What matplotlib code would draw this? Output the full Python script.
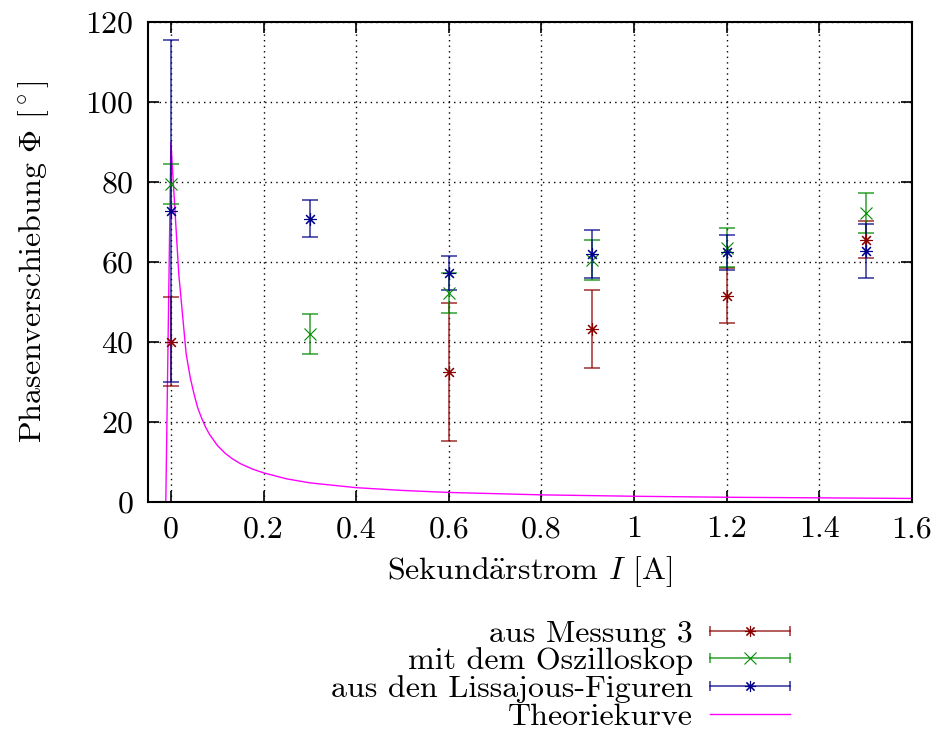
import matplotlib
matplotlib.use('Agg')
import matplotlib.pyplot as plt
from matplotlib.lines import Line2D
from matplotlib.legend_handler import HandlerBase

plt.rcParams['font.family'] = ['cmr10', 'DejaVu Serif']
plt.rcParams['mathtext.fontset'] = 'cm'
plt.rcParams['axes.formatter.use_mathtext'] = True
plt.rcParams['font.size'] = 23

# data
I_meas = [0.0, 0.6, 0.91, 1.2, 1.5]
phi_meas = [40.1, 32.5, 43.3, 51.6, 65.6]
err_meas = [11.2, 17.2, 9.8, 6.8, 4.7]

I_osz = [0.0, 0.3, 0.6, 0.91, 1.2, 1.5]
phi_osz = [79.6, 42.0, 52.3, 60.6, 63.6, 72.2]
err_osz = [5.0, 5.0, 5.0, 5.0, 4.9, 5.0]

I_lis = [0.0, 0.3, 0.6, 0.91, 1.2, 1.5]
phi_lis = [72.8, 70.8, 57.2, 62.0, 62.4, 62.8]
err_lis = [42.7, 4.6, 4.2, 6.0, 4.4, 6.7]

I_theo = [-0.011, 0.0, 0.017, 0.033, 0.042, 0.05, 0.058, 0.067, 0.075, 0.083, 0.1, 0.117,
          0.133, 0.15, 0.175, 0.2, 0.25, 0.3, 0.4, 0.5, 0.6, 0.8, 1.0, 1.2, 1.4, 1.6]
phi_theo = [0, 90, 57, 37, 31, 27, 23.5, 20.8, 18.7, 17, 14.2, 12.2,
            10.8, 9.6, 8.3, 7.3, 5.8, 4.8, 3.6, 2.9, 2.4, 1.8, 1.45, 1.2, 1.05, 0.9]

c_red = '#8b0000'
c_green = '#008b00'
c_blue = '#00008b'
c_theo = '#ff00ff'
star = (8, 2, 0)


class GnuErrHandler(HandlerBase):
    def create_artists(self, legend, orig_handle, xdescent, ydescent, width, height, fontsize, trans):
        col, mk = orig_handle
        y = height / 2 - ydescent
        x0, x1 = -xdescent, width - xdescent
        line = Line2D([x0, x1], [y, y], color=col, lw=1.2, alpha=0.75)
        caps = Line2D([x0, x1], [y, y], ls='none', marker='|', ms=7, mew=1.2, color=col, alpha=0.75)
        dot = Line2D([(x0 + x1) / 2], [y], ls='none', marker=mk, ms=8, mew=0.8, color=col)
        for a in (line, caps, dot):
            a.set_transform(trans)
        return [line, caps, dot]


fig = plt.figure(figsize=(9.41, 7.34), dpi=100)
ax = fig.add_axes([0.157, 0.316, 0.812, 0.654])

ax.plot(I_theo, phi_theo, color=c_theo, lw=1.0, zorder=2)
for xs, ys, es, col, mk in [(I_meas, phi_meas, err_meas, c_red, star),
                            (I_osz, phi_osz, err_osz, c_green, 'x'),
                            (I_lis, phi_lis, err_lis, c_blue, star)]:
    ax.errorbar(xs, ys, yerr=es, fmt='none', ecolor=col, elinewidth=1.2, capsize=6,
                capthick=1.2, alpha=0.75, zorder=3)
    ax.plot(xs, ys, ls='none', marker=mk, ms=9, mew=0.8, color=col, zorder=4)

ax.set_xlim(-0.05, 1.6)
ax.set_ylim(0, 120)
ax.set_xticks([0, 0.2, 0.4, 0.6, 0.8, 1.0, 1.2, 1.4, 1.6])
ax.set_xticklabels(['0', '0.2', '0.4', '0.6', '0.8', '1', '1.2', '1.4', '1.6'])
ax.set_yticks([0, 20, 40, 60, 80, 100, 120])
ax.grid(True, color='black', ls=(0, (1, 3)), lw=1.0)
ax.tick_params(direction='in', length=8, width=1.2, top=True, right=True, pad=10)
for s in ax.spines.values():
    s.set_linewidth(1.5)

ax.set_xlabel(r'Sekund$\ddot{\mathrm{a}}$rstrom $I$ [A]', labelpad=8)
ax.set_ylabel(r'Phasenverschiebung $\Phi$ [$^\circ$]', labelpad=25)

handles = [(c_red, star), (c_green, 'x'), (c_blue, star),
           Line2D([], [], color=c_theo, lw=1.0)]
labels = ['aus Messung 3', 'mit dem Oszilloskop', 'aus den Lissajous-Figuren', 'Theoriekurve']
fig.legend(handles, labels, handler_map={tuple: GnuErrHandler()},
           loc='upper right', bbox_to_anchor=(0.856, 0.178), frameon=False,
           fontsize=23, markerfirst=False, handlelength=2.5, handletextpad=0.53,
           labelspacing=-0.02, borderpad=0)

fig.savefig('out.png', dpi=100)
